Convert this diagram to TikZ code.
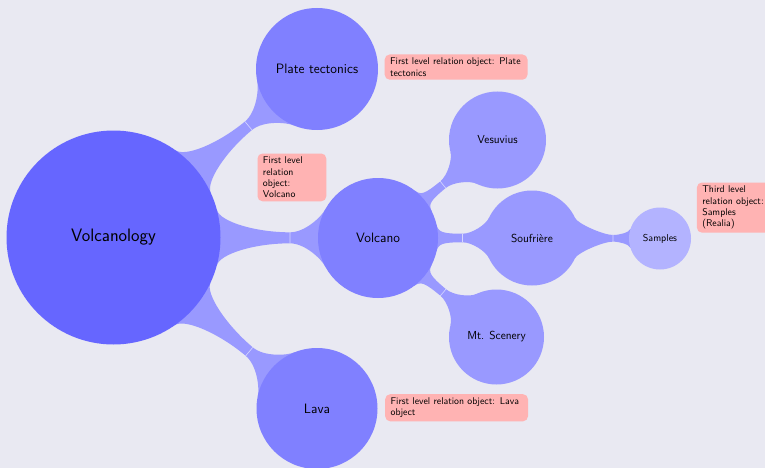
\documentclass[tikz,border=0pt]{standalone}
\pgfdeclarelayer{back}
\pgfdeclarelayer{bars}
\pgfsetlayers{back,bars,main}
\definecolor{bgc}{RGB}{233,233,242}
\definecolor{c0}{RGB}{102,102,255}
\definecolor{c1}{RGB}{128,128,255}
\definecolor{c2}{RGB}{153,153,255}
\definecolor{c3}{RGB}{179,179,255}
\definecolor{barc}{RGB}{153,153,255}
\definecolor{notec}{RGB}{255,179,179}
\pgfkeys{/cb/.is family}
\pgfkeys{/cb/pa/.initial=15, /cb/ka/.initial=12, /cb/ma/.initial=35, /cb/h/.initial=5.5,
  /cb/s/.initial=28, /cb/mb/.initial=15, /cb/kb/.initial=8, /cb/pb/.initial=28}
\newcommand\conbar[3][]{%
  \begingroup
  \pgfqkeys{/cb}{#1}%
  \pgfkeysgetvalue{/cb/pa}{\cbpa}\pgfkeysgetvalue{/cb/ka}{\cbka}%
  \pgfkeysgetvalue{/cb/ma}{\cbma}\pgfkeysgetvalue{/cb/h}{\cbh}%
  \pgfkeysgetvalue{/cb/s}{\cbs}\pgfkeysgetvalue{/cb/mb}{\cbmb}%
  \pgfkeysgetvalue{/cb/kb}{\cbkb}\pgfkeysgetvalue{/cb/pb}{\cbpb}%
  \pgfpointanchor{#2}{center}\pgfgetlastxy{\cbAx}{\cbAy}%
  \pgfpointanchor{#2}{east}\pgfgetlastxy{\cbAex}{\cbAey}%
  \pgfpointanchor{#3}{center}\pgfgetlastxy{\cbBx}{\cbBy}%
  \pgfpointanchor{#3}{east}\pgfgetlastxy{\cbBex}{\cbBey}%
  \pgfmathsetmacro\cbR{\cbAex-\cbAx}%
  \pgfmathsetmacro\cbr{\cbBex-\cbBx}%
  \pgfmathsetmacro\cbD{veclen(\cbBx-\cbAx,\cbBy-\cbAy)}%
  \pgfmathsetmacro\cbth{atan2(\cbBy-\cbAy,\cbBx-\cbAx)}%
  \pgfmathsetmacro\cbtm{\cbD-\cbr-\cbs}%
  \pgfmathsetmacro\cbpax{\cbR*cos(\cbpa)}%
  \pgfmathsetmacro\cbpay{\cbR*sin(\cbpa)}%
  \pgfmathsetmacro\cbpayn{-\cbpay}%
  \pgfmathsetmacro\cbcax{\cbpax+\cbka*sin(\cbpa)}%
  \pgfmathsetmacro\cbcay{\cbpay-\cbka*cos(\cbpa)}%
  \pgfmathsetmacro\cbcayn{-\cbcay}%
  \pgfmathsetmacro\cbqa{\cbtm-\cbma}%
  \pgfmathsetmacro\cbqb{\cbtm+\cbmb}%
  \pgfmathsetmacro\cbhn{-\cbh}%
  \pgfmathsetmacro\cbpbx{\cbD-\cbr*cos(\cbpb)}%
  \pgfmathsetmacro\cbpby{\cbr*sin(\cbpb)}%
  \pgfmathsetmacro\cbpbyn{-\cbpby}%
  \pgfmathsetmacro\cbcbx{\cbpbx-\cbkb*sin(\cbpb)}%
  \pgfmathsetmacro\cbcby{\cbpby-\cbkb*cos(\cbpb)}%
  \pgfmathsetmacro\cbcbyn{-\cbcby}%
  \begin{pgfonlayer}{bars}
  \begin{scope}[shift={(\cbAx,\cbAy)},rotate=\cbth]
    \fill[barc] (0,0) -- (\cbpax,\cbpay)
      .. controls (\cbcax,\cbcay) and (\cbqa,\cbh) .. (\cbtm,\cbh)
      .. controls (\cbqb,\cbh) and (\cbcbx,\cbcby) .. (\cbpbx,\cbpby)
      -- (\cbD,0) -- (\cbpbx,\cbpbyn)
      .. controls (\cbcbx,\cbcbyn) and (\cbqb,\cbhn) .. (\cbtm,\cbhn)
      .. controls (\cbqa,\cbhn) and (\cbcax,\cbcayn) .. (\cbpax,\cbpayn) -- cycle;
    \draw[switchline] (\cbtm,\cbh) -- (\cbtm,\cbhn);
  \end{scope}
  \end{pgfonlayer}%
  \endgroup}
\tikzset{
  concept/.style={circle, inner sep=0pt, outer sep=0pt, text=black},
  lv0/.style={concept, fill=c0, minimum size=214pt, font={\sffamily\fontsize{18}{21}\selectfont}},
  lv1/.style={concept, fill=c1, minimum size=121pt, font={\sffamily\fontsize{13.6}{16}\selectfont}},
  lv2/.style={concept, fill=c2, minimum size=96pt, font={\sffamily\fontsize{11.6}{14}\selectfont}},
  lv3/.style={concept, fill=c3, minimum size=62pt, font={\sffamily\fontsize{10}{12}\selectfont}},
  note/.style={fill=notec, rounded corners=5pt, inner xsep=5.4pt, inner ysep=3.5pt,
    align=left, anchor=north west, text=black,
    font={\sffamily\fontsize{9.8}{11.3}\selectfont\hyphenpenalty=10000\exhyphenpenalty=10000}},
  switchline/.style={draw=white, draw opacity=0.6, line width=0.6pt},
}
\begin{document}
\begin{tikzpicture}[x=1pt,y=1pt]
\useasboundingbox (0,0) rectangle (765,-468);
\begin{pgfonlayer}{back}
\fill[bgc] (0,0) rectangle (765,-468);
\end{pgfonlayer}
\node[lv0] (root) at (113.5,-237.5) {Volcanology};
\node[lv1, minimum size=122pt] (plate) at (317,-69) {Plate tectonics};
\node[lv1, minimum size=120pt] (volc) at (378,-238) {Volcano};
\node[lv1] (lava) at (317,-408.5) {Lava};
\node[lv2, minimum size=97pt] (vesu) at (497.5,-140) {Vesuvius};
\node[lv2, minimum size=95pt] (souf) at (532,-238) {Soufrière};
\node[lv2, minimum size=95pt] (mts) at (496.5,-337) {Mt. Scenery};
\node[lv3] (samp) at (660,-238.5) {Samples};
\conbar{root}{plate}
\conbar{root}{volc}
\conbar{root}{lava}
\conbar[pa=13,ka=8,ma=20,h=4.3,s=22,mb=10,kb=7,pb=25]{volc}{vesu}
\conbar[pa=13,ka=8,ma=20,h=4.3,s=22,mb=10,kb=7,pb=25]{volc}{souf}
\conbar[pa=13,ka=8,ma=20,h=4.3,s=22,mb=10,kb=7,pb=25]{volc}{mts}
\conbar[pa=25,ka=6,ma=10,h=3.3,s=16,mb=6,kb=4,pb=18]{souf}{samp}
\node[note, text width=132pt] (n1) at (384.5,-54.3) {First level relation object: Plate tectonics};
\node[note, text width=58pt] (n2) at (257.3,-153.3) {First level relation object: Volcano};
\node[note, text width=132pt] (n3) at (385,-394) {First level relation object: Lava object};
\node[note, text width=64pt] (n4) at (696.7,-182.3) {Third level relation object: Samples (Realia)};
\end{tikzpicture}
\end{document}
